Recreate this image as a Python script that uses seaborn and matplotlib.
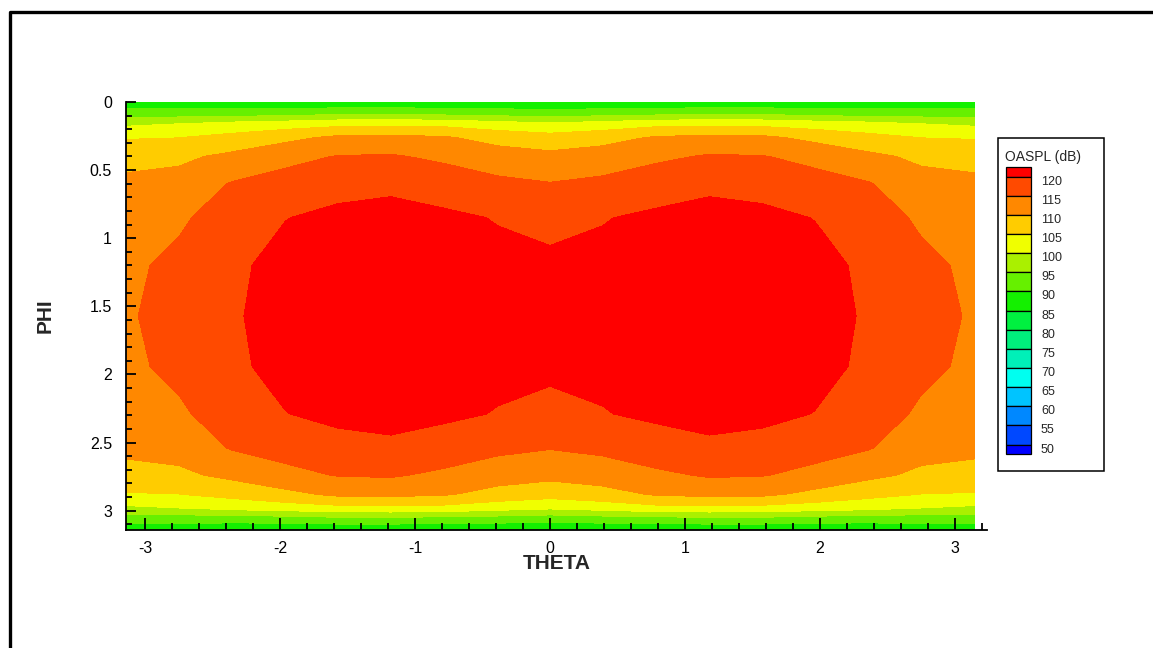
"""
OASPL directivity map (Tecplot style) redrawn with seaborn/matplotlib.
"""
import numpy as np
import matplotlib
matplotlib.use("Agg")
import matplotlib.pyplot as plt
from matplotlib.patches import Rectangle
from matplotlib.lines import Line2D
from matplotlib.ticker import MultipleLocator, FormatStrFormatter
import seaborn as sns

# Grid
theta = [-3.1416, -2.75, -2.36, -1.96, -1.57, -1.18, -0.79, -0.39, 0.0,
         0.39, 0.79, 1.18, 1.57, 1.96, 2.36, 2.75, 3.1416]
phi = [0.0, 0.08, 0.16, 0.26, 0.40, 0.60, 0.85, 1.20, 1.5708,
       1.94, 2.29, 2.54, 2.74, 2.88, 2.98, 3.06, 3.1416]

# OASPL (dB), one row per phi value, one column per theta value
oaspl = [
    [87.5, 87.0, 86.5, 86.0, 86.0, 86.0, 86.0, 86.0, 86.0, 86.0, 86.0, 86.0, 86.0, 86.0, 86.5, 87.0, 87.5],
    [92.0, 92.0, 92.0, 92.5, 93.5, 93.5, 93.0, 92.5, 91.7, 92.5, 93.0, 93.5, 93.5, 92.5, 92.0, 92.0, 92.0],
    [99.0, 100.0, 101.5, 102.5, 103.5, 103.8, 103.5, 102.0, 100.8, 102.0, 103.5, 103.8, 103.5, 102.5, 101.5, 100.0, 99.0],
    [104.6, 104.9, 106.5, 108.6, 111.0, 111.2, 110.5, 108.2, 106.9, 108.2, 110.5, 111.2, 111.0, 108.6, 106.5, 104.9, 104.6],
    [108.5, 109.0, 111.1, 113.8, 115.2, 115.5, 114.0, 112.3, 111.3, 112.3, 114.0, 115.5, 115.2, 113.8, 111.1, 109.0, 108.5],
    [111.0, 111.8, 115.3, 116.6, 118.6, 119.2, 118.0, 116.1, 115.2, 116.1, 118.0, 119.2, 118.6, 116.6, 115.3, 111.8, 111.0],
    [112.7, 114.2, 117.5, 119.9, 121.0, 121.3, 120.8, 119.8, 119.3, 119.8, 120.8, 121.3, 121.0, 119.9, 117.5, 114.2, 112.7],
    [114.0, 116.2, 119.2, 121.3, 122.4, 122.8, 121.8, 121.0, 120.5, 121.0, 121.8, 122.8, 122.4, 121.3, 119.2, 116.2, 114.0],
    [114.4, 117.0, 119.4, 122.0, 123.2, 123.5, 122.5, 121.5, 120.8, 121.5, 122.5, 123.5, 123.2, 122.0, 119.4, 117.0, 114.4],
    [114.0, 116.2, 119.2, 121.3, 122.4, 122.8, 121.8, 121.0, 120.5, 121.0, 121.8, 122.8, 122.4, 121.3, 119.2, 116.2, 114.0],
    [112.7, 114.2, 117.5, 119.9, 121.0, 121.3, 120.8, 119.8, 119.3, 119.8, 120.8, 121.3, 121.0, 119.9, 117.5, 114.2, 112.7],
    [111.0, 111.8, 115.3, 116.6, 118.6, 119.2, 118.0, 116.1, 115.2, 116.1, 118.0, 119.2, 118.6, 116.6, 115.3, 111.8, 111.0],
    [108.5, 109.0, 111.1, 113.8, 115.2, 115.5, 114.0, 112.3, 111.3, 112.3, 114.0, 115.5, 115.2, 113.8, 111.1, 109.0, 108.5],
    [104.6, 104.9, 106.5, 108.6, 111.0, 111.2, 110.5, 108.2, 106.9, 108.2, 110.5, 111.2, 111.0, 108.6, 106.5, 104.9, 104.6],
    [99.0, 100.0, 101.5, 102.5, 103.5, 103.8, 103.5, 102.0, 100.8, 102.0, 103.5, 103.8, 103.5, 102.5, 101.5, 100.0, 99.0],
    [92.0, 92.0, 92.0, 92.5, 93.5, 93.5, 93.0, 92.5, 91.7, 92.5, 93.0, 93.5, 93.5, 92.5, 92.0, 92.0, 92.0],
    [87.5, 87.0, 86.5, 86.0, 86.0, 86.0, 86.0, 86.0, 86.0, 86.0, 86.0, 86.0, 86.0, 86.0, 86.5, 87.0, 87.5],
]

# contour levels and legend labels
level_values = [50, 55, 60, 65, 70, 75, 80, 85, 90, 95, 100, 105, 110, 115, 120]
legend_labels = ["120", "115", "110", "105", "100", "95", "90", "85", "80",
                 "75", "70", "65", "60", "55", "50"]

# band colours, low -> high (below 50 ... above 120)
band_colors = ["#0000FF", "#0048FF", "#0088FF", "#00C4FF", "#00FFF0", "#00F0B8",
               "#00F07C", "#00F040", "#14F000", "#66F000", "#AAF000", "#F0FF00",
               "#FFCC00", "#FF8800", "#FF4A00", "#FF0000"]

sns.set_style("ticks")
plt.rcParams["font.family"] = ["Liberation Sans", "DejaVu Sans"]
plt.rcParams["axes.unicode_minus"] = False

W, H = 1153, 648
fig = plt.figure(figsize=(W / 100, H / 100), dpi=100)

# main axes: left 126px, right 987px, top 102px, bottom 530px
ax = fig.add_axes([126 / W, 1 - 530 / H, (987 - 126) / W, (530 - 102) / H])
levels = [0] + level_values + [200]
ax.contourf(theta, phi, np.array(oaspl), levels=levels, colors=band_colors)
ax.set_axisbelow(False)

ax.set_xlim(-np.pi, 3.237)
ax.set_ylim(np.pi, 0)
sns.despine(ax=ax, top=True, right=True)
for side in ["left", "bottom"]:
    ax.spines[side].set_linewidth(1.3)
    ax.spines[side].set_color("black")
    ax.spines[side].set_zorder(3)

ax.set_xticks([-3, -2, -1, 0, 1, 2, 3])
ax.set_yticks([0, 0.5, 1, 1.5, 2, 2.5, 3])
ax.xaxis.set_minor_locator(MultipleLocator(0.2))
ax.yaxis.set_minor_locator(MultipleLocator(0.1))
ax.xaxis.set_major_formatter(FormatStrFormatter("%g"))
ax.yaxis.set_major_formatter(FormatStrFormatter("%g"))
ax.tick_params(axis="x", which="major", direction="in", length=9, width=1.3,
               pad=8, labelsize=11.5, colors="black")
ax.tick_params(axis="x", which="minor", direction="in", length=5, width=1.3,
               colors="black")
ax.tick_params(axis="y", which="major", direction="in", length=7, width=1.3,
               pad=10, labelsize=11.5, colors="black")
ax.tick_params(axis="y", which="minor", direction="in", length=4, width=1.3,
               colors="black")

ax.set_xlabel("THETA", fontsize=15, fontweight="bold")
ax.xaxis.label.set_va("center")
ax.xaxis.set_label_coords(0.5, -0.078)
ax.set_ylabel("PHI", fontsize=15, fontweight="bold")
ax.yaxis.label.set_va("center")
ax.yaxis.set_label_coords(-0.094, 0.5)

# overlay in pixel coordinates for the legend box and the frame
ov = fig.add_axes([0, 0, 1, 1], zorder=5)
ov.set_xlim(0, W)
ov.set_ylim(H, 0)
ov.axis("off")
ov.patch.set_alpha(0)

ov.add_line(Line2D([10, 10, W + 20], [H + 20, 11.5, 11.5], color="black",
                   lw=2.4, clip_on=False))

ov.add_patch(Rectangle((998, 138), 106, 333, fill=False, ec="black", lw=1.1))
ov.text(1005, 157, "OASPL (dB)", fontsize=10, va="center", ha="left")

box_x, box_w = 1006, 25
step = 19.13
top = 176.7
legend_colors = band_colors[::-1]
# half-height box above the top level
ov.add_patch(Rectangle((box_x, 166.7), box_w, top - 166.7,
                       fc=legend_colors[0], ec="black", lw=0.9))
for i in range(14):
    ov.add_patch(Rectangle((box_x, top + i * step), box_w, step,
                           fc=legend_colors[i + 1], ec="black", lw=0.9))
# half-height box below the bottom level
ov.add_patch(Rectangle((box_x, top + 14 * step), box_w, 9.8,
                       fc=legend_colors[15], ec="black", lw=0.9))
for i, lab in enumerate(legend_labels):
    ov.text(1041, 181.7 + i * step, lab, fontsize=9, va="center", ha="left")

fig.savefig("out.png", dpi=100)
